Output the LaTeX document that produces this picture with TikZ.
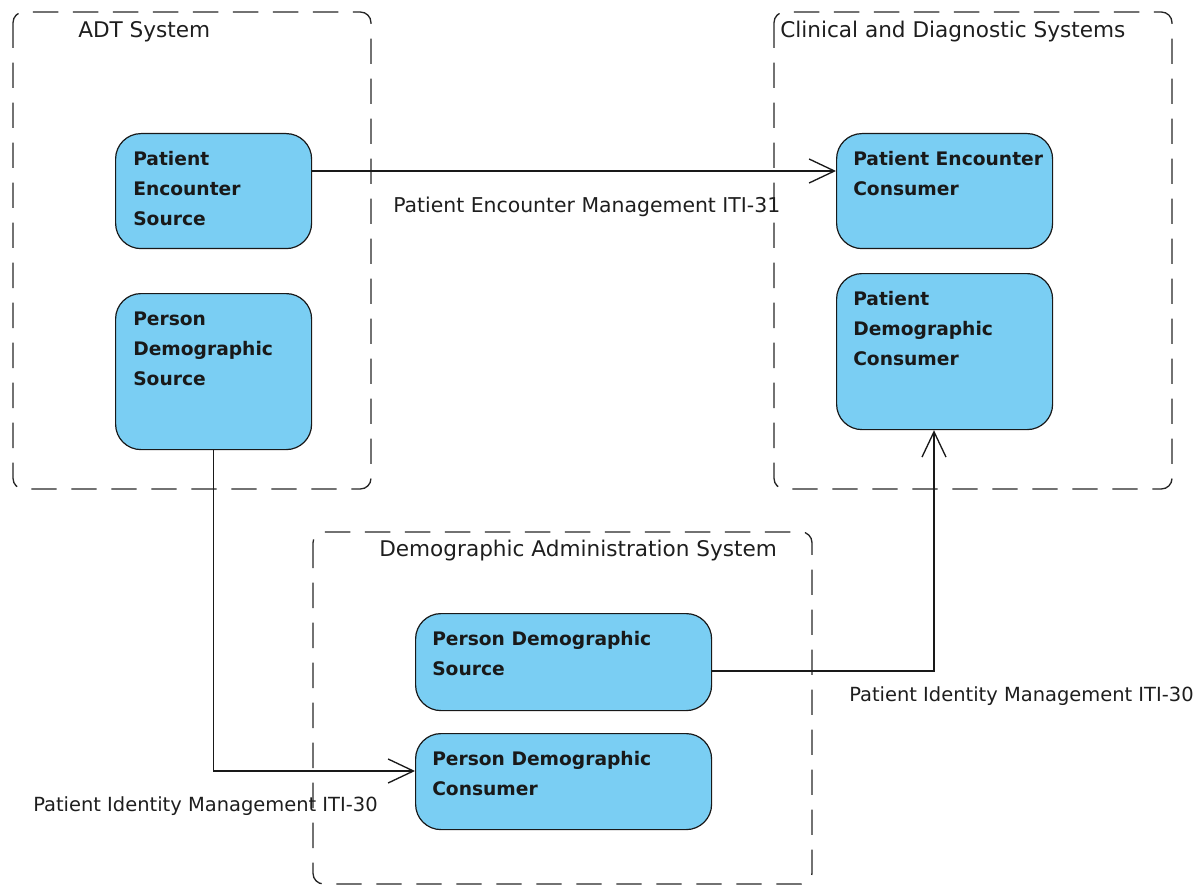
\documentclass[tikz,border=0pt]{standalone}
\usepackage{fontspec}
\setmainfont{DejaVu Sans}
\usetikzlibrary{arrows.meta}
\definecolor{boxblue}{RGB}{122,206,243}
\definecolor{txt}{RGB}{30,30,30}
\tikzset{
  container/.style={draw=black!85, line width=1pt, rounded corners=8pt,
    dash pattern=on 19pt off 11pt},
  ctitle/.style={anchor=west, inner sep=0pt, text=txt, font=\fontsize{16.2}{18}\selectfont},
  actor/.style={draw=black!90, line width=0.9pt, fill=boxblue, rounded corners=19pt, inner sep=0pt},
  atext/.style={anchor=north west, inner sep=0pt, align=left, text=black!90,
    font=\fontsize{14}{22.5}\selectfont\bfseries},
  conn/.style={draw=black!90, line width=1pt, -{Straight Barb[length=19pt,width=18pt,line width=1pt]}},
  clabel/.style={anchor=west, inner sep=0pt, text=txt, font=\fontsize{14.6}{18}\selectfont},
}
\begin{document}
\begin{tikzpicture}[x=0.75pt,y=-0.75pt]
\useasboundingbox (0,0) rectangle (1200,888);
% containers
\draw[container] (13,12) rectangle (371,489);
\node[ctitle] (t-adt) at (78,32) {ADT System};
\draw[container] (774,12) rectangle (1172,489);
\node[ctitle] (t-cds) at (780,32) {Clinical and Diagnostic Systems};
\draw[container] (313,532) rectangle (812,884);
\node[ctitle] (t-das) at (379,551) {Demographic Administration System};
% actors
\node[actor, minimum width=147pt, minimum height=86.25pt, anchor=north west] (pes) at (115,133) {};
\node[atext] (pes-t) at (133,151.5) {Patient\\Encounter\\Source};
\node[actor, minimum width=147pt, minimum height=117pt, anchor=north west] (pds) at (115,293) {};
\node[atext] (pds-t) at (133,311.5) {Person\\Demographic\\Source};
\node[actor, minimum width=162pt, minimum height=86.25pt, anchor=north west] (pec) at (836,133) {};
\node[atext] (pec-t) at (853,151.5) {Patient Encounter\\Consumer};
\node[actor, minimum width=162pt, minimum height=117pt, anchor=north west] (pdc) at (836,273) {};
\node[atext] (pdc-t) at (853,291.5) {Patient\\Demographic\\Consumer};
\node[actor, minimum width=222pt, minimum height=72.75pt, anchor=north west] (pds2) at (415,613) {};
\node[atext] (pds2-t) at (432,631.5) {Person Demographic\\Source};
\node[actor, minimum width=222pt, minimum height=72pt, anchor=north west] (pdc2) at (415,733) {};
\node[atext] (pdc2-t) at (432,751.5) {Person Demographic\\Consumer};
% connectors
\path (pes.north east) ++(0,38) coordinate (a1s);
\draw[conn] (a1s) -- (a1s -| pec.west);
\node[clabel, font=\fontsize{15.3}{18}\selectfont] (l1) at (393,207) {Patient Encounter Management ITI-31};
\path (pdc2.north west) ++(0,38) coordinate (a2e);
\draw[conn] (pds.south) |- (a2e);
\node[clabel] (l2) at (33,806) {Patient Identity Management ITI-30};
\path (pds2.north east) ++(0,58) coordinate (a3s);
\path (pdc.south west) ++(98,0) coordinate (a3e);
\draw[conn] (a3s) -| (a3e);
\node[clabel] (l3) at (849,696) {Patient Identity Management ITI-30};
\end{tikzpicture}
\end{document}
